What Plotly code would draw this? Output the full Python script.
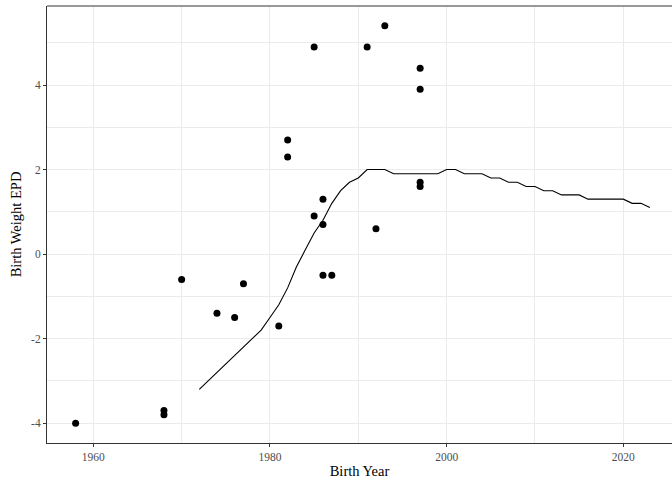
import plotly.graph_objects as go

# Data: individual animals (points)
pt_years = [1958, 1968, 1968, 1970, 1974, 1976, 1977, 1981, 1982, 1982,
            1985, 1985, 1986, 1986, 1986, 1987, 1991, 1992, 1993,
            1997, 1997, 1997, 1997]
pt_epd = [-4.0, -3.7, -3.8, -0.6, -1.4, -1.5, -0.7, -1.7, 2.7, 2.3,
          4.9, 0.9, 1.3, 0.7, -0.5, -0.5, 4.9, 0.6, 5.4,
          4.4, 3.9, 1.7, 1.6]

# Data: breed average trend (line)
trend_years = list(range(1972, 2024))
trend_epd = [-3.2, -3.0, -2.8, -2.6, -2.4, -2.2, -2.0, -1.8,
             -1.5, -1.2, -0.8, -0.3, 0.1, 0.5, 0.8, 1.2, 1.5, 1.7, 1.8,
             2.0, 2.0, 2.0, 1.9, 1.9, 1.9, 1.9, 1.9, 1.9, 2.0, 2.0,
             1.9, 1.9, 1.9, 1.8, 1.8, 1.7, 1.7, 1.6, 1.6, 1.5, 1.5,
             1.4, 1.4, 1.4, 1.3, 1.3, 1.3, 1.3, 1.3, 1.2, 1.2, 1.1]

x_ticks = [1960, 1980, 2000, 2020]
y_ticks = [-4, -2, 0, 2, 4]

FONT = "Liberation Serif, Times New Roman, serif"

fig = go.Figure()
fig.add_trace(go.Scatter(x=trend_years, y=trend_epd, mode="lines",
                         line=dict(color="#000000", width=1.1),
                         hoverinfo="skip", showlegend=False))
fig.add_trace(go.Scatter(x=pt_years, y=pt_epd, mode="markers",
                         marker=dict(color="#000000", size=7),
                         showlegend=False))

fig.update_layout(
    width=672, height=479,
    margin=dict(l=47, r=0, t=6, b=36),
    paper_bgcolor="white", plot_bgcolor="white",
    font=dict(family=FONT, color="#000000"),
    showlegend=False,
)

fig.update_xaxes(
    range=[1954.76, 2025.51],
    tickmode="array", tickvals=x_ticks, ticktext=[str(v) for v in x_ticks],
    ticks="outside", ticklen=3, tickcolor="#333333", tickwidth=1,
    tickfont=dict(family=FONT, size=11.5, color="#4D4D4D"),
    showgrid=True, gridcolor="#EBEBEB", gridwidth=1.07,
    minor=dict(tickmode="array", tickvals=[1970, 1990, 2010],
               showgrid=True, gridcolor="#EBEBEB", gridwidth=0.55, ticks=""),
    showline=True, linecolor="#333333", linewidth=1,
    zeroline=False,
    title=dict(text="Birth Year", font=dict(family=FONT, size=14.5, color="#000000"),
               standoff=4),
)
fig.update_yaxes(
    range=[-4.47, 5.87],
    tickmode="array", tickvals=y_ticks, ticktext=[str(v) for v in y_ticks],
    ticks="outside", ticklen=3, tickcolor="#333333", tickwidth=1,
    tickfont=dict(family=FONT, size=11.5, color="#4D4D4D"),
    showgrid=True, gridcolor="#EBEBEB", gridwidth=1.07,
    minor=dict(tickmode="array", tickvals=[-3, -1, 1, 3, 5],
               showgrid=True, gridcolor="#EBEBEB", gridwidth=0.55, ticks=""),
    showline=True, linecolor="#333333", linewidth=1,
    zeroline=False,
    title=dict(text="Birth Weight EPD", font=dict(family=FONT, size=14.5, color="#000000"),
               standoff=6),
)

# top panel border (right border lies beyond the visible page)
fig.add_shape(type="line", xref="paper", yref="paper", x0=0, x1=1.05, y0=1, y1=1,
              line=dict(color="#333333", width=1))

fig.write_html("out.html")
